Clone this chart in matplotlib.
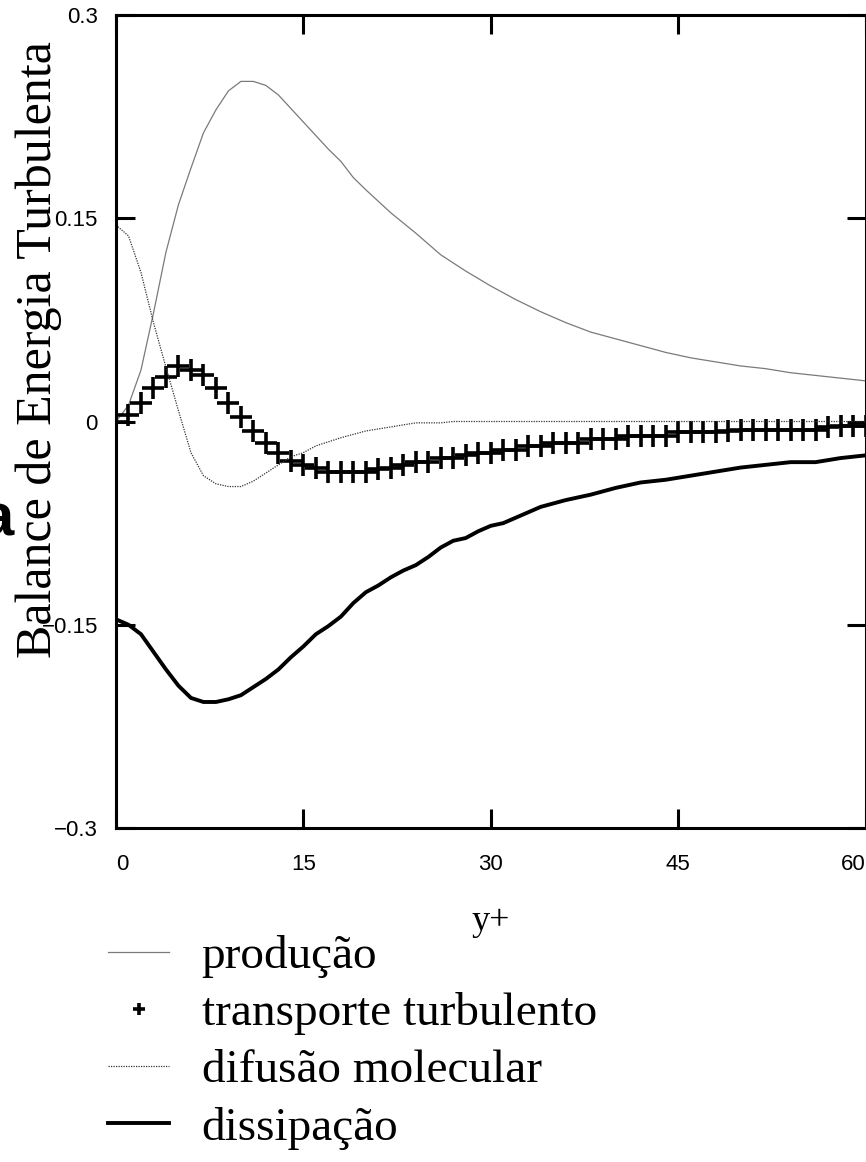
import numpy as np
import matplotlib
matplotlib.use('Agg')
import matplotlib.pyplot as plt

# values
prod_x = [0, 1, 2, 3, 4, 5, 6, 7, 8, 9, 10, 11, 12, 13, 14, 15, 16, 17, 18, 19, 20,
          22, 24, 26, 28, 30, 32, 34, 36, 38, 40, 42, 44, 46, 48, 50, 52, 54, 56, 58, 60]
producao = [0.0, 0.012, 0.038, 0.080, 0.125, 0.160, 0.187, 0.213, 0.230, 0.244, 0.251,
            0.251, 0.248, 0.241, 0.231, 0.221, 0.211, 0.201, 0.192, 0.180, 0.171,
            0.154, 0.139, 0.123, 0.111, 0.100, 0.090, 0.081, 0.073, 0.066, 0.061,
            0.056, 0.051, 0.047, 0.044, 0.041, 0.039, 0.036, 0.034, 0.032, 0.030]

dif_x = [0, 1, 2, 3, 4, 5, 6, 7, 8, 9, 10, 11, 12, 13, 14, 15, 16, 17, 18, 20, 22,
         24, 26, 27, 30, 40, 50, 60]
difusao = [0.145, 0.137, 0.110, 0.073, 0.040, 0.008, -0.023, -0.040, -0.046, -0.048,
           -0.048, -0.044, -0.038, -0.032, -0.026, -0.023, -0.018, -0.015, -0.012,
           -0.007, -0.004, -0.001, -0.001, 0.0, 0.0, 0.0, 0.0, 0.0]

diss_x = [0, 1, 2, 3, 4, 5, 6, 7, 8, 9, 10, 11, 12, 13, 14, 15, 16, 17, 18, 19, 20,
          21, 22, 23, 24, 25, 26, 27, 28, 29, 30, 31, 32, 33, 34, 36, 38, 40, 42, 44,
          46, 48, 50, 52, 54, 56, 58, 60]
dissipacao = [-0.146, -0.150, -0.157, -0.170, -0.183, -0.195, -0.204, -0.207, -0.207,
              -0.205, -0.202, -0.196, -0.190, -0.183, -0.174, -0.166, -0.157, -0.151,
              -0.144, -0.134, -0.126, -0.121, -0.115, -0.110, -0.106, -0.100, -0.093,
              -0.088, -0.086, -0.081, -0.077, -0.075, -0.071, -0.067, -0.063, -0.058,
              -0.054, -0.049, -0.045, -0.043, -0.040, -0.037, -0.034, -0.032, -0.030,
              -0.030, -0.027, -0.025]

trans_x = list(range(61))
transporte = [0.0, 0.005, 0.014, 0.025, 0.033, 0.041, 0.038, 0.034, 0.025, 0.014,
              0.003, -0.007, -0.016, -0.023, -0.029, -0.032, -0.034, -0.037, -0.037,
              -0.037, -0.037, -0.035, -0.034, -0.032, -0.030, -0.030, -0.027, -0.027,
              -0.025, -0.023, -0.023, -0.021, -0.021, -0.018, -0.018, -0.016, -0.016,
              -0.016, -0.013, -0.013, -0.013, -0.011, -0.011, -0.011, -0.011, -0.008,
              -0.008, -0.008, -0.008, -0.007, -0.006, -0.006, -0.006, -0.006, -0.006,
              -0.006, -0.006, -0.004, -0.003, -0.003, -0.003]

x_ticks = [0, 15, 30, 45, 60]
y_ticks = [0.3, 0.15, 0, -0.15, -0.3]
y_tick_labels = ['0.3', '0.15', '0', '\u22120.15', '\u22120.3']

serif = 'Liberation Serif'
sans = 'Liberation Sans'

fig = plt.figure(figsize=(8.66, 11.62), dpi=100)
ax = fig.add_axes([116 / 866, 1 - 828 / 1162, 749.5 / 866, (828 - 15) / 1162])

ax.plot(prod_x, producao, color='#7a7a7a', lw=0.9, label='produção')
ax.plot(trans_x, transporte, linestyle='none', marker='+', ms=16, mew=2.6,
        color='black', label='transporte turbulento')
ax.plot(dif_x, difusao, color='#333333', lw=0.9, linestyle=(0, (1, 1)),
        label='difusão molecular')
ax.plot(diss_x, dissipacao, color='black', lw=2.8, label='dissipação')

ax.set_xlim(0, 60)
ax.set_ylim(-0.3, 0.3)

# tick styling first, labels after (tick_params can rebuild the ticks)
ax.tick_params(axis='both', direction='in', length=14, width=2.2,
               top=True, right=True, labelsize=16)
ax.tick_params(axis='x', pad=19)
ax.tick_params(axis='y', pad=13)
for s in ax.spines.values():
    s.set_linewidth(2.2)

ax.set_xticks(x_ticks)
ax.set_yticks(y_ticks)
ax.set_yticklabels(y_tick_labels, fontfamily=sans, fontsize=16)
ax.set_xticklabels([str(t) for t in x_ticks], fontfamily=sans, fontsize=16)
xl = ax.get_xticklabels()
xl[0].set_ha('left')
xl[-1].set_ha('right')

ax.set_xlabel('y+', fontfamily=serif, fontsize=26, labelpad=21)
ax.set_ylabel('Balance de Energia Turbulenta', fontfamily=serif, fontsize=36)
ax.yaxis.set_label_coords(-0.072, 0.588)

# stray clipped letter at the left edge
fig.text(13 / 866, 1 - 535 / 1162, 'a', fontfamily=sans, fontsize=43,
         fontweight='bold', ha='right', va='baseline')

fig.legend(loc='upper left', bbox_to_anchor=(108 / 866, 1 - 935 / 1162),
           frameon=False, prop={'family': serif, 'size': 34},
           handlelength=1.3, handletextpad=0.68, labelspacing=0.3,
           borderaxespad=0, borderpad=0, markerscale=0.55)

fig.savefig('out.png', dpi=100)
